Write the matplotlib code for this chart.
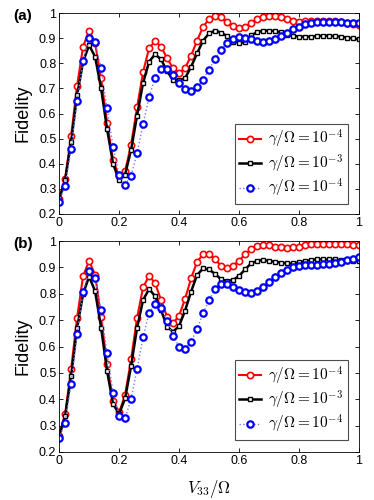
import matplotlib
matplotlib.use('Agg')
import matplotlib.pyplot as plt
import numpy as np

plt.rcParams['font.family'] = ['Liberation Sans', 'DejaVu Sans']
plt.rcParams['mathtext.fontset'] = 'cm'

# x grid: V33/Omega from 0 to 1 in steps of 0.02
x = np.round(np.arange(0, 1.0001, 0.02), 2)

legend_labels = [r'$\gamma/\Omega = 10^{-4}$', r'$\gamma/\Omega = 10^{-3}$', r'$\gamma/\Omega = 10^{-4}$']

## panel (a)
red_a = [0.26, 0.34, 0.51, 0.71, 0.866, 0.93, 0.88, 0.74, 0.564, 0.414, 0.35,
         0.37, 0.476, 0.624, 0.765, 0.86, 0.888, 0.866, 0.82, 0.78, 0.76,
         0.78, 0.83, 0.89, 0.945, 0.976, 0.988, 0.983, 0.963, 0.948, 0.94,
         0.945, 0.96, 0.975, 0.985, 0.99, 0.99, 0.983, 0.976, 0.97, 0.965,
         0.968, 0.968, 0.968, 0.968, 0.968, 0.968, 0.965, 0.96, 0.956, 0.951]
black_a = [0.258, 0.334, 0.487, 0.673, 0.806, 0.872, 0.826, 0.70, 0.538, 0.40, 0.334,
           0.357, 0.455, 0.592, 0.722, 0.806, 0.836, 0.815, 0.769, 0.733, 0.733,
           0.74, 0.786, 0.839, 0.89, 0.919, 0.93, 0.922, 0.908, 0.886, 0.882,
           0.883, 0.911, 0.923, 0.93, 0.93, 0.928, 0.923, 0.912, 0.91, 0.906,
           0.906, 0.906, 0.908, 0.91, 0.91, 0.908, 0.906, 0.902, 0.899, 0.895]
blue_a = [0.249, 0.31, 0.46, 0.65, 0.81, 0.90, 0.883, 0.78, 0.62, 0.467, 0.357,
          0.317, 0.352, 0.443, 0.557, 0.666, 0.742, 0.777, 0.777, 0.753, 0.72,
          0.697, 0.689, 0.704, 0.735, 0.775, 0.817, 0.854, 0.882, 0.895, 0.903,
          0.901, 0.896, 0.89, 0.886, 0.888, 0.896, 0.908, 0.922, 0.935, 0.945,
          0.955, 0.96, 0.963, 0.964, 0.964, 0.964, 0.963, 0.962, 0.961, 0.959]

## panel (b)
red_b = [0.26, 0.343, 0.513, 0.709, 0.867, 0.925, 0.872, 0.713, 0.532, 0.395, 0.35,
         0.416, 0.551, 0.709, 0.824, 0.868, 0.84, 0.776, 0.713, 0.688, 0.717,
         0.78, 0.858, 0.921, 0.95, 0.949, 0.93, 0.906, 0.896, 0.907, 0.925,
         0.95, 0.97, 0.98, 0.986, 0.983, 0.979, 0.976, 0.975, 0.976, 0.979,
         0.983, 0.987, 0.99, 0.99, 0.99, 0.989, 0.988, 0.987, 0.986, 0.986]
black_b = [0.26, 0.336, 0.488, 0.669, 0.80, 0.865, 0.81, 0.672, 0.507, 0.382, 0.344,
           0.403, 0.526, 0.671, 0.776, 0.818, 0.791, 0.738, 0.675, 0.656, 0.678,
           0.736, 0.808, 0.871, 0.896, 0.892, 0.875, 0.855, 0.848, 0.852, 0.868,
           0.892, 0.915, 0.924, 0.928, 0.925, 0.921, 0.918, 0.915, 0.915, 0.919,
           0.924, 0.928, 0.93, 0.93, 0.93, 0.93, 0.928, 0.926, 0.925, 0.924]
blue_b = [0.252, 0.309, 0.458, 0.646, 0.808, 0.886, 0.858, 0.738, 0.574, 0.425, 0.336,
          0.328, 0.40, 0.516, 0.635, 0.726, 0.76, 0.745, 0.697, 0.64, 0.60,
          0.592, 0.618, 0.666, 0.726, 0.776, 0.817, 0.836, 0.836, 0.824, 0.813,
          0.806, 0.804, 0.812, 0.824, 0.843, 0.862, 0.877, 0.89, 0.90, 0.906,
          0.909, 0.909, 0.909, 0.911, 0.913, 0.918, 0.921, 0.928, 0.932, 0.938]

fig = plt.figure(figsize=(3.74, 5.0), dpi=100)
ax_a = fig.add_axes([0.158, 0.572, 0.802, 0.402])
ax_b = fig.add_axes([0.158, 0.096, 0.802, 0.422])

def draw_panel(ax, red, black, blue, leg_y):
    ax.plot(x, red, '-o', color='red', lw=1.5, ms=4.5, mew=1.2, mfc='white', mec='red',
            label=legend_labels[0])
    ax.plot(x, black, '-s', color='black', lw=1.8, ms=3.5, mew=1.0, mfc='white', mec='black',
            label=legend_labels[1])
    ax.plot(x, blue, ':o', color='#7a7aff', lw=1.0, ms=4.6, mew=1.6, mfc='white', mec='blue',
            label=legend_labels[2])
    ax.set_xlim(0, 1)
    ax.set_ylim(0.2, 1)
    ax.set_xticks([0, 0.2, 0.4, 0.6, 0.8, 1])
    ax.set_xticklabels(['0', '0.2', '0.4', '0.6', '0.8', '1'])
    ax.set_yticks(np.arange(0.2, 1.01, 0.1))
    ax.set_yticklabels(['0.2', '0.3', '0.4', '0.5', '0.6', '0.7', '0.8', '0.9', '1'])
    ax.tick_params(direction='in', top=True, right=True, labelsize=9, length=3, width=0.6, pad=2)
    for s in ax.spines.values():
        s.set_linewidth(0.6)
    ax.set_ylabel('Fidelity', fontsize=13, labelpad=5)
    leg = ax.legend(loc='lower right', bbox_to_anchor=(0.963, leg_y), fontsize=11,
                    fancybox=False, edgecolor='0.3', framealpha=1, borderpad=0.3,
                    handlelength=1.4, handletextpad=0.5, labelspacing=0.15, borderaxespad=0)
    leg.get_frame().set_linewidth(0.8)

draw_panel(ax_a, red_a, black_a, blue_a, 0.05)
draw_panel(ax_b, red_b, black_b, blue_b, 0.057)
ax_b.set_xlabel(r'$V_{33}/\Omega$', fontsize=12, labelpad=8)

fig.text(0.035, 0.968, '(a)', fontsize=11, fontweight='bold', va='center')
fig.text(0.035, 0.512, '(b)', fontsize=11, fontweight='bold', va='center')

fig.savefig('out.png', dpi=100)
